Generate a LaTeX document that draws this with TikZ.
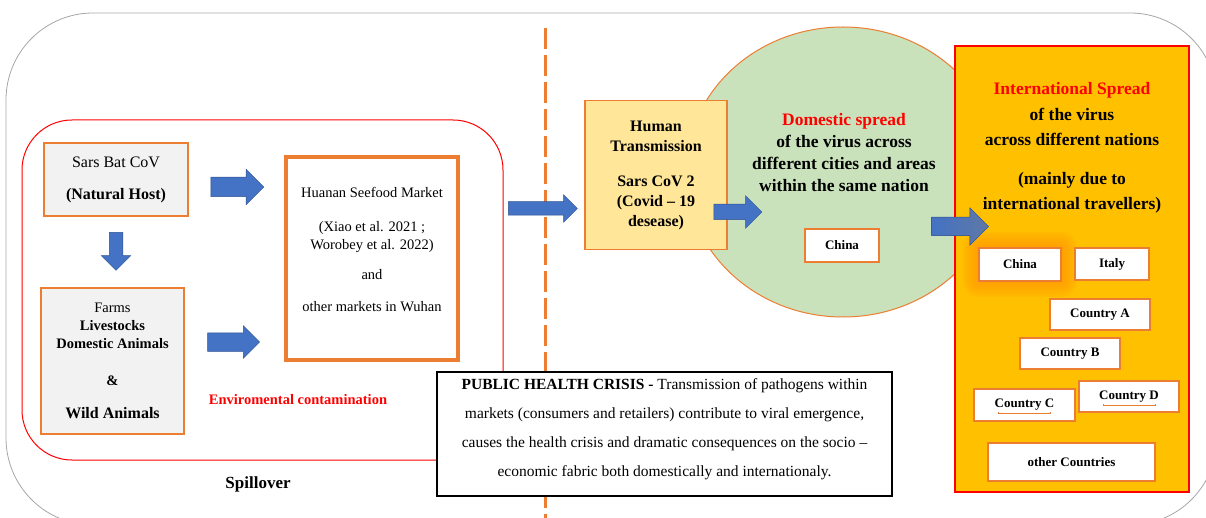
\documentclass[tikz,border=0pt]{standalone}
\usepackage{fontspec}
\setmainfont{Liberation Serif}
\usepackage{xcolor}
\usepackage{tikz}
\usetikzlibrary{shapes.arrows, shapes.geometric, calc}
\definecolor{lineorange}{HTML}{ED7D31}
\definecolor{arrowblue}{HTML}{4472C4}
\definecolor{arrowedge}{HTML}{2F528F}
\definecolor{hostgray}{HTML}{F2F2F2}
\definecolor{humanfill}{HTML}{FFE699}
\definecolor{spreadgreen}{HTML}{C9E2BB}
\definecolor{intlfill}{HTML}{FFC000}
\definecolor{glow}{HTML}{FF9500}
\newcommand{\fs}[2]{\fontsize{#1}{#2}\selectfont}

\begin{document}
\begin{tikzpicture}[
  x=1pt, y=-1pt,
  box/.style={rectangle, draw=lineorange, line width=1.2pt, inner sep=0pt, align=center},
  hostbox/.style={box, fill=hostgray},
  countrybox/.style={box, fill=white, line width=1.5pt, font=\fs{13}{15}\bfseries},
  blockarrow/.style={single arrow, draw=arrowedge, line width=0.5pt, fill=arrowblue, inner xsep=0pt, single arrow head indent=0pt},
  underline/.style={lineorange, line width=0.8pt}
]

  \clip (0,0) rectangle (1206,518);
  \useasboundingbox (0,0) rectangle (1206,518);

  % frame, divider and the spillover area
  \draw[gray!70, line width=0.8pt, rounded corners=87pt] (6,13) rectangle (1217,525);
  \draw[lineorange, line width=3pt, dash pattern=on 21pt off 6pt] (545,28) -- (545,518);
  \draw[red, line width=1pt, rounded corners=50pt] (22,120) rectangle (503,460);

  % left side: hosts and markets
  \node[hostbox, minimum width=144pt, minimum height=73pt, font=\fs{16}{32}] (batcov) at (116,179.5)
    {Sars Bat CoV\\ \textbf{(Natural Host)}};
  \node[hostbox, minimum width=143pt, minimum height=146pt, font=\fs{14.5}{18}] (farms) at (112.5,361)
    {Farms\\ \textbf{Livestocks}\\ \textbf{Domestic Animals}\\[19pt] \textbf{\&}\\[15pt] {\fs{16}{18}\bfseries Wild Animals}};
  \node[box, line width=3.5pt, minimum width=172pt, minimum height=203pt] (market) at (372,258.5) {};
  \node[font=\fs{14.5}{18}, align=center] (markettext) at (372,249.5)
    {Huanan Seefood Market\\[16pt] (Xiao et al. 2021 ;\\ Worobey et al. 2022)\\[12pt] and\\[14pt] other markets in Wuhan};
  \node[anchor=base, font=\fs{14.5}{18}\bfseries, text=red] (contam) at (298,404) {Enviromental contamination};
  \node[anchor=base, font=\fs{17}{20}\bfseries] (spill) at (258,488) {Spillover};

  \node[blockarrow, minimum height=53pt, inner ysep=9.5pt, single arrow head extend=8pt] (batarrow) at (232.5,187) {};
  \node[blockarrow, minimum height=52pt, inner ysep=9pt, single arrow head extend=7pt] (farmarrow) at (229,342) {};
  \node[blockarrow, rotate=-90, minimum height=38pt, inner ysep=6.5pt, single arrow head extend=8pt] (downarrow) at (116,248) {};

  % domestic spread
  \node[ellipse, draw=lineorange, line width=1pt, fill=spreadgreen, minimum width=314pt, minimum height=290pt, inner sep=0pt] (domestic) at (843,172) {};
  \node[box, fill=humanfill, minimum width=142pt, minimum height=149pt, font=\fs{16}{20}\bfseries] (human) at (656,175)
    {Human\\ Transmission\\[15pt] Sars CoV 2\\ (Covid -- 19\\ desease)};
  \node[font=\fs{17.5}{22}\bfseries, align=center] (domtext) at (844,153)
    {\textcolor{red}{Domestic spread}\\ of the virus across\\ different cities and areas\\ within the same nation};
  \node[countrybox, minimum width=74pt, minimum height=33pt] (chinaA) at (842,245.5) {China};

  \node[blockarrow, minimum height=69pt, inner ysep=6.5pt, single arrow head extend=7pt] (spillarrow) at (539.5,208.5) {};
  \node[blockarrow, minimum height=48pt, inner ysep=7.5pt, single arrow head extend=8.5pt] (humanarrow) at (734,212) {};

  % international spread
  \node[rectangle, draw=red, line width=1.8pt, fill=intlfill, minimum width=234pt, minimum height=446pt] (intl) at (1072,269) {};
  \node[font=\fs{17.5}{25.5}\bfseries, align=center] (intltext) at (1072,148)
    {\textcolor{red}{International Spread}\\ of the virus\\ across different nations\\[13pt] (mainly due to\\ international travellers)};

  \coordinate (chinaglow) at (1020,264.5);
  \foreach \g in {2,4,...,16}
    \fill[glow, opacity=0.12, rounded corners=\g pt] ($(chinaglow)+(-41-\g,-16.5-\g)$) rectangle ($(chinaglow)+(41+\g,16.5+\g)$);

  \node[countrybox, minimum width=82pt, minimum height=33pt] (chinaB) at (1020,264.5) {China};
  \node[countrybox, minimum width=74pt, minimum height=32pt] (italy) at (1112,264) {Italy};
  \node[countrybox, minimum width=100pt, minimum height=31pt] (countryA) at (1100,314.5) {Country A};
  \node[countrybox, minimum width=100pt, minimum height=31pt] (countryB) at (1070,353.5) {Country B};
  \node[countrybox, minimum width=101pt, minimum height=32pt] (countryC) at (1024.5,405) {Country C};
  \node[countrybox, minimum width=100pt, minimum height=31pt] (countryD) at (1129,396.5) {Country D};
  \node[countrybox, minimum width=167pt, minimum height=38pt] (others) at (1071.5,462) {other Countries};
  \draw[underline] ([xshift=-26pt,yshift=8pt]countryC.south) ++(0,-2) -- ++(0,2) -- ++(52,0) -- ++(0,-2);
  \draw[underline] ([xshift=-26pt,yshift=7pt]countryD.south) ++(0,-2) -- ++(0,2) -- ++(52,0) -- ++(0,-2);

  \node[blockarrow, left color=arrowblue, right color=arrowblue!55!gray, minimum height=57pt, inner ysep=9pt, single arrow head extend=9.5pt] (intlarrow) at (955.5,226.5) {};

  % the crisis note on top
  \node[rectangle, draw=black, line width=1.8pt, fill=white, minimum width=455pt, minimum height=124pt] (crisis) at (664.5,434) {};
  \node[font=\fs{15.5}{29}, align=center] (crisistext) at (664.5,429)
    {\textbf{PUBLIC HEALTH CRISIS -} Transmission of pathogens within\\
     markets (consumers and retailers) contribute to viral emergence,\\
     causes the health crisis and dramatic consequences on the socio --\\
     economic fabric both domestically and internationaly.};

\end{tikzpicture}
\end{document}
